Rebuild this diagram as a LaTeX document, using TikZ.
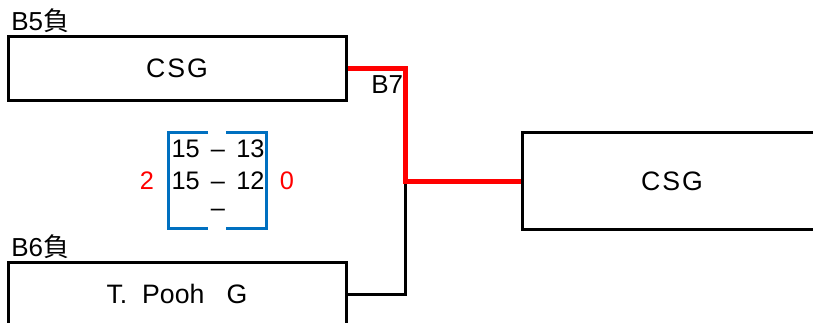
\documentclass[tikz,border=0pt]{standalone}
\usepackage{fontspec}
\setmainfont{Liberation Sans}
\newfontfamily\jpfont{Noto Sans CJK JP}
\definecolor{bracketblue}{RGB}{0,112,192}
\tikzset{
	team/.style={draw, line width=2.25pt, inner sep=0pt, font=\fontsize{20pt}{22pt}\selectfont},
	tag/.style={anchor=west, inner sep=0pt, font=\fontsize{19.5pt}{20pt}\selectfont},
	score/.style={inner sep=0pt, font=\fontsize{19pt}{20pt}\selectfont},
	win/.style={line width=3.75pt, red},
	lose/.style={line width=2.25pt}
}
\begin{document}
\begin{tikzpicture}[x=0.75pt,y=-0.75pt]
	\useasboundingbox (0,0) rectangle (813,322);
	\clip (0,0) rectangle (813,322);
	\node (top) at (177,68) [team, minimum width=253.5pt, minimum height=48pt] {C\kern1.5pt S\kern1.5pt G};
	\node (bot) at (177,294) [team, minimum width=253.5pt, minimum height=48pt] {T.\ \ Pooh\ \ \ G};
	\node (final) at (672,181) [team, minimum width=225pt, minimum height=72.75pt] {C\kern1.5pt S\kern1.5pt G};
	\node (tagtop) at (11,21) [tag] {B5{\jpfont 負}};
	\node (tagbot) at (11,247) [tag] {B6{\jpfont 負}};
	\node (match) at (371,85) [tag] {B7};
	\coordinate (join) at (405,181);
	\draw [lose] (bot.east) -| (join);
	\draw [win] (top.east) -| (join) -- (final.west);
	% score sheet
	\draw [bracketblue, line width=2.25pt] (208,132) -- (168,132) -- (168,228) -- (208,228);
	\draw [bracketblue, line width=2.25pt] (226,132) -- (266,132) -- (266,228) -- (226,228);
	\node (set1) at (218,149) [score] {15 \,–\, 13};
	\node (set2) at (218,181) [score] {15 \,–\, 12};
	\node (set3) at (218,213) [score] {–};
	\node (left) at (147,181) [score, red] {2};
	\node (right) at (287,181) [score, red] {0};
\end{tikzpicture}
\end{document}
